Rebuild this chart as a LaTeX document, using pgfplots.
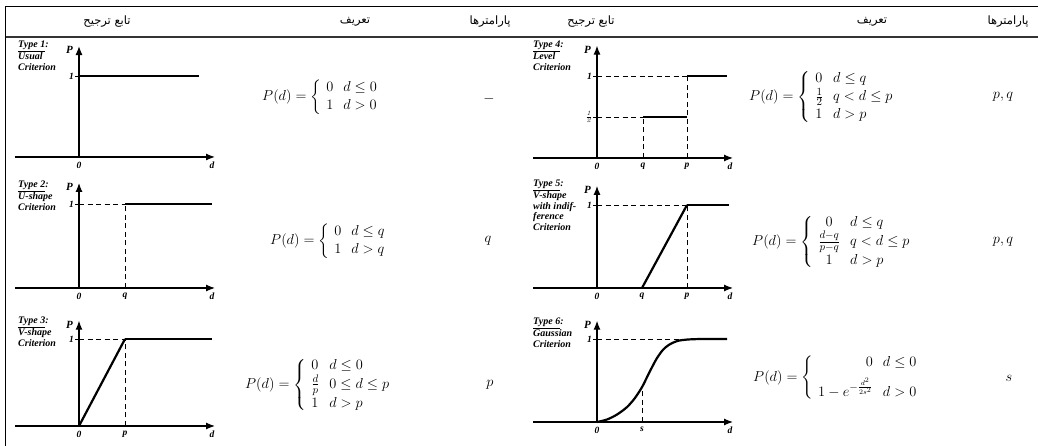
\documentclass[border=0pt]{standalone}
\usepackage{amsmath}
\usepackage{fontspec}
\usepackage{pgfplots}
\pgfplotsset{compat=1.18}
\usetikzlibrary{arrows.meta}
\TeXXeTstate=1
\newfontfamily\persian[Script=Arabic]{DejaVu Sans}
\newfontfamily\tser{Liberation Serif}
\renewcommand{\arraystretch}{1.1}

\pgfplotsset{
  pref/.style={
    axis lines=middle, enlargelimits=false, clip=false,
    x=1pt, xmin=-64, xmax=136, ymin=0,
    xtick=\empty, ytick=\empty,
    axis line style={line width=1.2pt, -{Latex[length=9pt,width=7pt]}},
    anchor=south west,
  },
  fn/.style={black, line width=1.5pt, no markers},
  sl/.style={black, line width=2.2pt, no markers},
  gd/.style={black, line width=0.9pt, dash pattern=on 5pt off 3.5pt, no markers},
  tk/.style={black, line width=0.9pt, no markers},
}
\tikzset{
  lbl/.style={font=\tser\bfseries\itshape\fontsize{9.5}{10}\selectfont, inner sep=1pt},
  pl/.style={anchor=east, inner sep=1pt, font=\tser\bfseries\itshape\fontsize{11}{11}\selectfont},
  typ/.style={anchor=north west, align=left, inner sep=0pt,
    font=\tser\bfseries\itshape\fontsize{10}{10.5}\selectfont},
  fm/.style={anchor=west, inner sep=0pt, font=\fontsize{15}{16}\selectfont},
  hd/.style={font=\persian\fontsize{11.5}{12}\selectfont, inner sep=0pt},
}

\begin{document}
\begin{tikzpicture}
\path[use as bounding box] (0,0) rectangle (1038pt,446pt);

% frame and header
\draw[line width=1pt] (5pt,439pt) -- (1038pt,439pt);
\draw[line width=1.4pt, black!80] (5pt,409pt) -- (1038pt,409pt);
\draw[line width=1pt] (5pt,439pt) -- (5pt,0pt);

\node[hd] at (107pt,424pt) {\beginR تابع ترجیح\endR};
\node[hd] at (355pt,424pt) {\beginR تعریف\endR};
\node[hd] at (490pt,424pt) {\beginR پارامترها\endR};
\node[hd] at (591pt,424pt) {\beginR تابع ترجیح\endR};
\node[hd] at (872pt,424pt) {\beginR تعریف\endR};
\node[hd] at (1008pt,424pt) {\beginR پارامترها\endR};

% Type 1
\node[typ] at (18pt,405pt) {\underline{Type 1}:\\Usual\\Criterion};
\begin{axis}[pref, at={(15pt,289pt)}, y=81pt, ymax=1.37]
  \addplot[fn] coordinates {(0,1) (120,1)};
  \addplot[tk] coordinates {(-4,1) (0,1)};
  \node[lbl, anchor=east] at (-4,1) {1};
  \node[pl] at (-5,1.32) {P};
  \node[lbl, below=4pt] at (0,0) {0};
  \node[lbl, below=4pt] at (133,0) {d};
\end{axis}
\node[fm] at (262pt,349pt) {$P(d)=\left\{\begin{array}{ll}0 & d\le 0\\ 1 & d>0\end{array}\right.$};
\node[fm, anchor=center] at (489pt,347pt) {$-$};

% Type 2
\node[typ] at (18pt,265pt) {\underline{Type 2}:\\U-shape\\Criterion};
\begin{axis}[pref, at={(15pt,158pt)}, y=84pt, ymax=1.25]
  \addplot[gd] coordinates {(0,1) (46,1)};
  \addplot[gd] coordinates {(46,0) (46,1)};
  \addplot[fn] coordinates {(46,1) (133,1)};
  \addplot[tk] coordinates {(-4,1) (0,1)};
  \node[lbl, anchor=east] at (-4,1) {1};
  \node[pl] at (-5,1.2) {P};
  \node[lbl, below=4pt] at (0,0) {0};
  \node[lbl, below=4pt] at (46,0) {q};
  \node[lbl, below=4pt] at (133,0) {d};
\end{axis}
\node[fm] at (270pt,205pt) {$P(d)=\left\{\begin{array}{ll}0 & d\le q\\ 1 & d>q\end{array}\right.$};
\node[fm, anchor=center] at (488pt,205pt) {$q$};

% Type 3
\node[typ] at (18pt,129pt) {\underline{Type 3}:\\V-shape\\Criterion};
\begin{axis}[pref, at={(15pt,20pt)}, y=87pt, ymax=1.21]
  \addplot[gd] coordinates {(0,1) (46,1)};
  \addplot[gd] coordinates {(46,0) (46,1)};
  \addplot[sl] coordinates {(0,0) (46,1)};
  \addplot[fn] coordinates {(46,1) (133,1)};
  \addplot[tk] coordinates {(-4,1) (0,1)};
  \node[lbl, anchor=east] at (-4,1) {1};
  \node[pl] at (-5,1.16) {P};
  \node[lbl, below=4pt] at (0,0) {0};
  \node[lbl, below=4pt] at (46,0) {p};
  \node[lbl, below=4pt] at (133,0) {d};
\end{axis}
\node[fm] at (245pt,61pt) {$P(d)=\left\{\begin{array}{ll}0 & d\le 0\\ \tfrac{d}{p} & 0\le d\le p\\ 1 & d>p\end{array}\right.$};
\node[fm, anchor=center] at (490pt,61pt) {$p$};

% Type 4
\node[typ] at (533pt,405pt) {\underline{Type 4}:\\Level\\Criterion};
\begin{axis}[pref, at={(533pt,288pt)}, y=82pt, ymax=1.37]
  \addplot[gd] coordinates {(0,0.5) (46,0.5)};
  \addplot[gd] coordinates {(46,0) (46,0.5)};
  \addplot[fn] coordinates {(46,0.5) (90,0.5)};
  \addplot[gd] coordinates {(0,1) (90,1)};
  \addplot[gd] coordinates {(90,0) (90,1)};
  \addplot[sl] coordinates {(90,1) (130,1)};
  \addplot[tk] coordinates {(-4,1) (0,1)};
  \addplot[tk] coordinates {(-4,0.5) (0,0.5)};
  \node[lbl, anchor=east] at (-4,1) {1};
  \node[lbl, anchor=east] at (-4,0.5) {$\frac{\mathit{1}}{\mathit{2}}$};
  \node[pl] at (-5,1.32) {P};
  \node[lbl, below=4pt] at (0,0) {0};
  \node[lbl, below=4pt] at (46,0) {q};
  \node[lbl, below=4pt] at (90,0) {p};
  \node[lbl, below=4pt] at (133,0) {d};
\end{axis}
\node[fm] at (749pt,349pt) {$P(d)=\left\{\begin{array}{ll}0 & d\le q\\ \tfrac{1}{2} & q<d\le p\\ 1 & d>p\end{array}\right.$};
\node[fm, anchor=center] at (1003pt,349pt) {$p,q$};

% Type 5
\node[typ] at (533pt,266pt) {\underline{Type 5}:\\V-shape\\with indif-\\ference\\Criterion};
\begin{axis}[pref, at={(533pt,158pt)}, y=83pt, ymax=1.23]
  \addplot[gd] coordinates {(0,1) (90,1)};
  \addplot[gd] coordinates {(90,0) (90,1)};
  \addplot[fn] coordinates {(-64,0) (45,0)};
  \addplot[sl] coordinates {(45,0) (90,1)};
  \addplot[fn] coordinates {(90,1) (132,1)};
  \addplot[tk] coordinates {(-4,1) (0,1)};
  \node[lbl, anchor=east] at (-4,1) {1};
  \node[pl] at (-5,1.18) {P};
  \node[lbl, below=4pt] at (0,0) {0};
  \node[lbl, below=4pt] at (45,0) {q};
  \node[lbl, below=4pt] at (90,0) {p};
  \node[lbl, below=4pt] at (133,0) {d};
\end{axis}
\node[fm] at (752pt,204pt) {$P(d)=\left\{\begin{array}{cl}0 & d\le q\\ \tfrac{d-q}{p-q} & q<d\le p\\ 1 & d>p\end{array}\right.$};
\node[fm, anchor=center] at (1003pt,204pt) {$p,q$};

% Type 6
\node[typ] at (533pt,128pt) {\underline{Type 6}:\\Gaussian\\Criterion};
\begin{axis}[pref, at={(533pt,24pt)}, y=83pt, ymax=1.22]
  \addplot[gd] coordinates {(0,1) (130,1)};
  \addplot[gd] coordinates {(45,0) (45,0.42)};
  \addplot[sl, smooth] coordinates {
    (0,0) (10,0.03) (20,0.09) (30,0.18) (38,0.29) (45,0.42) (50,0.54)
    (55,0.66) (60,0.77) (66,0.87) (72,0.93) (80,0.975) (90,0.993) (105,1) (130,1)};
  \addplot[tk] coordinates {(-4,1) (0,1)};
  \node[lbl, anchor=east] at (-4,1) {1};
  \node[pl] at (-5,1.17) {P};
  \node[lbl, below=4pt] at (0,0) {0};
  \node[lbl, below=4pt] at (45,0) {s};
  \node[lbl, below=4pt] at (133,0) {d};
\end{axis}
\node[fm] at (753pt,68pt) {$P(d)=\left\{\begin{array}{rl}0 & d\le 0\\[6pt] 1-e^{-\frac{d^2}{2s^2}} & d>0\end{array}\right.$};
\node[fm, anchor=center] at (1009pt,68pt) {$s$};
\end{tikzpicture}
\end{document}
